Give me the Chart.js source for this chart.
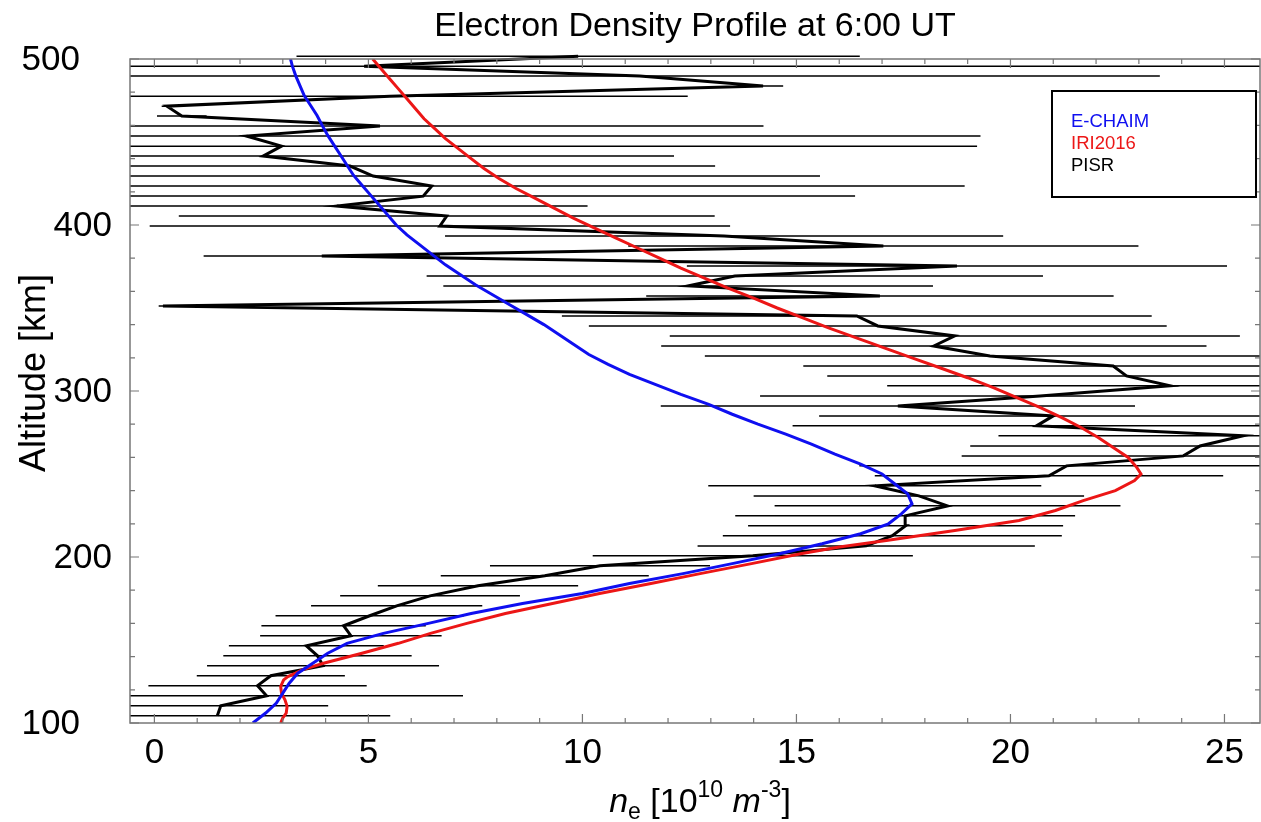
<!DOCTYPE html>
<html>
<head>
<meta charset="utf-8">
<script src="https://cdn.jsdelivr.net/npm/chart.js@4.4.0/dist/chart.umd.min.js"></script>
<style>
  html, body { margin: 0; padding: 0; background: #fff; }
  #wrap { width: 1261px; height: 822px; }
</style>
</head>
<body>
<div id="wrap"><canvas id="profile" width="1261" height="822"></canvas></div>
<script>
// E-CHAIM model profile (altitude km -> Ne, 1e10 m^-3)
var echaimAlt = [100,106,112,118,124,130,136,142,148,154,160,166,172,178,184,190,196,202,208,214,220,226,232,238,244,250,256,262,268,274,280,286,292,298,304,310,316,322,328,334,340,346,352,358,364,370,376,382,388,394,400,406,412,418,424,430,436,442,448,454,460,466,472,478,484,490,496,500];
var echaimNe = [2.3,2.6,2.85,3.0,3.15,3.35,3.7,4.05,4.5,5.35,6.4,7.4,8.6,10.0,11.1,12.35,13.5,14.6,15.6,16.5,17.15,17.45,17.7,17.6,17.3,17.0,16.5,15.9,15.35,14.75,14.1,13.5,12.95,12.3,11.7,11.1,10.6,10.15,9.8,9.45,9.1,8.7,8.3,7.9,7.5,7.15,6.8,6.5,6.2,5.9,5.65,5.45,5.25,5.05,4.85,4.65,4.5,4.35,4.2,4.05,3.92,3.8,3.65,3.5,3.4,3.3,3.22,3.18];

// IRI2016 model profile
var iriAlt = [100,103,106,110,114,118,122,126,128,130,132,136,142,148,154,160,166,172,178,184,190,196,202,206,210,216,222,228,234,240,246,250,254,260,266,272,278,284,290,296,302,308,314,320,326,332,338,344,350,356,362,368,374,380,386,392,398,404,410,416,422,428,434,440,446,452,458,464,470,476,482,488,494,500];
var iriNe = [2.95,3.0,3.08,3.1,3.05,2.97,2.95,3.02,3.12,3.3,3.45,3.95,4.85,5.7,6.45,7.3,8.2,9.3,10.4,11.6,12.75,13.95,15.1,16.0,17.1,18.7,20.2,21.05,21.7,22.45,22.9,23.05,22.95,22.75,22.4,22.05,21.65,21.2,20.7,20.15,19.6,19.0,18.35,17.7,17.05,16.4,15.75,15.15,14.55,14.0,13.4,12.85,12.3,11.8,11.3,10.8,10.3,9.8,9.35,8.9,8.45,8.05,7.7,7.4,7.1,6.8,6.55,6.3,6.1,5.9,5.7,5.5,5.3,5.1];

// PISR measurements with error bars
var pisrAlt = [104.4,110.4,116.4,122.5,128.5,134.5,140.5,146.5,152.6,158.6,164.6,170.6,176.6,182.7,188.7,194.7,200.7,206.7,212.8,218.8,224.8,230.8,236.8,242.9,248.9,254.9,260.9,266.9,273.0,279.0,285.0,291.0,297.0,303.1,309.1,315.1,321.1,327.1,333.2,339.2,345.2,351.2,357.2,363.3,369.3,375.3,381.3,387.3,393.4,399.4,405.4,411.4,417.4,423.5,429.5,435.5,441.5,447.5,453.6,459.6,465.6,471.6,477.6,483.7,489.7,495.7,501.7];
var pisrNe = [1.47,1.55,2.62,2.41,2.72,3.94,3.81,3.55,4.59,4.42,5.03,5.66,6.44,7.56,9.12,10.41,13.98,16.63,17.24,17.55,17.54,18.53,17.86,16.83,20.90,21.31,24.04,24.43,25.44,20.61,21.00,17.37,20.69,23.73,22.71,22.40,19.52,18.21,18.70,16.90,16.41,0.20,16.95,12.47,13.56,18.75,3.91,17.03,13.31,6.67,6.83,4.26,6.28,6.48,5.11,4.57,2.54,2.97,2.15,5.27,0.64,0.29,5.50,14.22,11.34,4.9,9.9];
var pisrErr = [4.04,2.51,4.59,2.55,1.73,2.71,2.20,1.81,2.12,1.92,2.20,2.00,2.10,2.34,2.43,2.57,3.74,3.94,3.96,3.68,3.97,4.04,3.86,3.89,4.07,4.84,5.18,5.37,5.72,5.70,5.47,5.54,6.54,6.61,6.99,7.24,6.66,6.37,6.66,6.75,6.89,0.10,5.46,5.72,7.20,6.31,2.76,5.96,6.52,6.78,6.26,5.86,10.09,12.45,10.44,8.53,9.60,16.25,17.15,8.96,0.58,0.12,6.96,0.47,12.15,22.4,6.58];

var xTickValues = [0, 5, 10, 15, 20, 25];
var yTickValues = [100, 200, 300, 400, 500];
var legendNames = ['E-CHAIM', 'IRI2016', 'PISR'];
var titleText = 'Electron Density Profile at 6:00 UT';
var yTitleText = 'Altitude [km]';

var BLUE = 'rgb(15, 15, 240)';
var RED = 'rgb(236, 22, 22)';
var FONT = "'Liberation Sans', Arial, sans-serif";

function toPoints(alt, ne) {
    return alt.map(function (a, i) { return { x: ne[i], y: a }; });
}

// horizontal error bars, drawn under the curves
var errorBars = {
    id: 'errorBars',
    beforeDatasetsDraw: function (chart) {
        var ctx = chart.ctx, a = chart.chartArea;
        var xs = chart.scales.x, ys = chart.scales.y;
        ctx.save();
        ctx.beginPath();
        ctx.rect(a.left, a.top - 5, a.right - a.left, a.bottom - a.top + 5);
        ctx.clip();
        ctx.strokeStyle = '#000';
        ctx.lineWidth = 1.5;
        ctx.beginPath();
        for (var i = 0; i < pisrAlt.length; i++) {
            var py = ys.getPixelForValue(pisrAlt[i]);
            ctx.moveTo(xs.getPixelForValue(pisrNe[i] - pisrErr[i]), py);
            ctx.lineTo(xs.getPixelForValue(pisrNe[i] + pisrErr[i]), py);
        }
        ctx.stroke();
        ctx.restore();
    }
};

// mathematica-like frame with inward ticks
var frame = {
    id: 'frame',
    afterDatasetsDraw: function (chart) {
        var ctx = chart.ctx, a = chart.chartArea;
        var xs = chart.scales.x, ys = chart.scales.y;
        ctx.save();
        ctx.strokeStyle = '#777';
        ctx.lineWidth = 1.5;
        ctx.strokeRect(a.left, a.top, a.right - a.left, a.bottom - a.top);
        ctx.lineWidth = 1.2;
        ctx.beginPath();
        for (var v = 0; v <= 25; v++) {
            var px = xs.getPixelForValue(v);
            var len = v % 5 === 0 ? 9 : 5;
            ctx.moveTo(px, a.bottom); ctx.lineTo(px, a.bottom - len);
            ctx.moveTo(px, a.top); ctx.lineTo(px, a.top + len);
        }
        for (var h = 100; h <= 500; h += 20) {
            var py = ys.getPixelForValue(h);
            var l2 = h % 100 === 0 ? 9 : 5;
            ctx.moveTo(a.left, py); ctx.lineTo(a.left + l2, py);
            ctx.moveTo(a.right, py); ctx.lineTo(a.right - l2, py);
        }
        ctx.stroke();
        ctx.restore();
    }
};

// texts: title, y labels, axis titles, boxed legend
var texts = {
    id: 'texts',
    afterDraw: function (chart) {
        var ctx = chart.ctx, a = chart.chartArea;
        var ys = chart.scales.y;
        ctx.save();
        ctx.fillStyle = '#000';

        // title
        ctx.font = '34px ' + FONT;
        ctx.textAlign = 'center';
        ctx.textBaseline = 'alphabetic';
        ctx.fillText(titleText, (a.left + a.right) / 2, 36);

        // y tick labels (end labels sit further left)
        ctx.font = '35px ' + FONT;
        ctx.textAlign = 'right';
        ctx.textBaseline = 'middle';
        yTickValues.forEach(function (v) {
            var edge = (v === ys.min || v === ys.max) ? 80 : 112;
            ctx.fillText(String(v), edge, ys.getPixelForValue(v) + 1);
        });

        // y axis title
        ctx.save();
        ctx.translate(45, 373);
        ctx.rotate(-Math.PI / 2);
        ctx.font = '36px ' + FONT;
        ctx.textAlign = 'center';
        ctx.textBaseline = 'alphabetic';
        ctx.fillText(yTitleText, 0, 0);
        ctx.restore();

        // x axis title with sub/superscripts
        var parts = [
            { t: 'n', f: 'italic 34px ' + FONT, dy: 0 },
            { t: 'e', f: '23px ' + FONT, dy: 7 },
            { t: ' [10', f: '34px ' + FONT, dy: 0 },
            { t: '10', f: '23px ' + FONT, dy: -15 },
            { t: ' m', f: 'italic 34px ' + FONT, dy: 0 },
            { t: '-3', f: '23px ' + FONT, dy: -15 },
            { t: ']', f: '34px ' + FONT, dy: 0 }
        ];
        var total = 0;
        parts.forEach(function (p) { ctx.font = p.f; total += ctx.measureText(p.t).width; });
        var x0 = 700 - total / 2;
        ctx.textAlign = 'left';
        ctx.textBaseline = 'alphabetic';
        parts.forEach(function (p) {
            ctx.font = p.f;
            ctx.fillText(p.t, x0, 812 + p.dy);
            x0 += ctx.measureText(p.t).width;
        });

        // legend box
        var colors = [BLUE, RED, '#000'];
        var bx = a.right - 208, by = a.top + 32;
        ctx.strokeStyle = '#000';
        ctx.lineWidth = 2;
        ctx.fillStyle = '#fff';
        ctx.fillRect(bx, by, 204, 106);
        ctx.strokeRect(bx, by, 204, 106);
        ctx.font = '18.5px ' + FONT;
        legendNames.forEach(function (name, i) {
            ctx.fillStyle = colors[i];
            ctx.fillText(name, bx + 19, by + 36 + i * 22);
        });
        ctx.restore();
    }
};

var config = {
    type: 'scatter',
    data: {
        datasets: [{
            label: 'E-CHAIM',
            data: toPoints(echaimAlt, echaimNe),
            showLine: true,
            borderColor: BLUE,
            borderWidth: 3,
            pointRadius: 0,
            tension: 0
        }, {
            label: 'IRI2016',
            data: toPoints(iriAlt, iriNe),
            showLine: true,
            borderColor: RED,
            borderWidth: 3,
            pointRadius: 0,
            tension: 0
        }, {
            label: 'PISR',
            data: toPoints(pisrAlt, pisrNe),
            showLine: true,
            borderColor: '#000',
            borderWidth: 3,
            pointRadius: 0,
            tension: 0,
            clip: { left: 0, top: 5, right: 0, bottom: 0 }
        }]
    },
    options: {
        responsive: false,
        animation: false,
        devicePixelRatio: 1,
        layout: { padding: { left: 0, right: 1, top: 59, bottom: 0 } },
        plugins: {
            legend: { display: false },
            tooltip: { enabled: false },
            title: { display: false }
        },
        scales: {
            x: {
                type: 'linear',
                position: 'bottom',
                min: -0.57,
                max: 25.83,
                afterBuildTicks: function (s) { s.ticks = xTickValues.map(function (v) { return { value: v }; }); },
                afterFit: function (s) { s.height = 99; },
                grid: { display: false, drawTicks: false },
                border: { display: false },
                ticks: { color: '#000', font: { family: FONT, size: 35 }, padding: 9, maxRotation: 0 }
            },
            y: {
                type: 'linear',
                min: 100,
                max: 500,
                afterBuildTicks: function (s) { s.ticks = yTickValues.map(function (v) { return { value: v }; }); },
                afterFit: function (s) { s.width = 130; },
                grid: { display: false, drawTicks: false },
                border: { display: false },
                ticks: { display: false }
            }
        }
    },
    plugins: [errorBars, frame, texts]
};

var profileChart = new Chart(document.getElementById('profile'), config);
</script>
</body>
</html>
